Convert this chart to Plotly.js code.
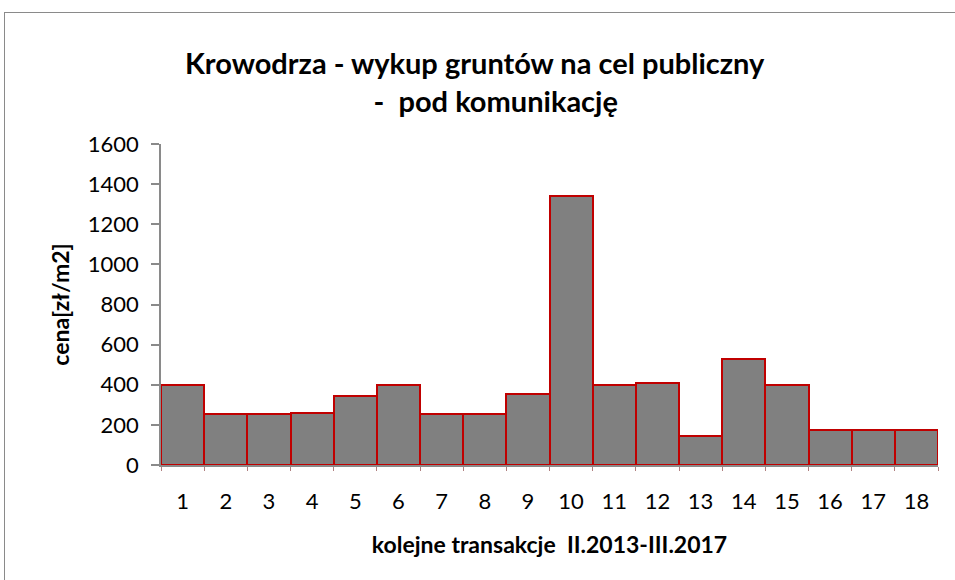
<!DOCTYPE html>
<html>
<head>
<meta charset="utf-8">
<script src="https://cdn.plot.ly/plotly-3.0.1.min.js"></script>
<style>
  body { margin: 0; background: #fff; }
  #frame { position: absolute; left: 4px; top: 12px; width: 1000px; height: 620px; border: 1.5px solid #8a8a8a; }
  #chart { position: absolute; left: 0; top: 0; width: 955px; height: 580px; }
</style>
</head>
<body>
<div id="frame"></div>
<div id="chart"></div>
<script>
// kolejne transakcje 1..18
var transakcje = ['1', '2', '3', '4', '5', '6', '7', '8', '9', '10', '11', '12', '13', '14', '15', '16', '17', '18'];
// cena [zł/m2]
var ceny = [400, 254, 254, 259, 342, 400, 253, 253, 355, 1341, 400, 409, 146, 528, 400, 176, 172, 172];
var yTicks = [0, 200, 400, 600, 800, 1000, 1200, 1400, 1600];

var fontFam = 'Lato, "Open Sans", sans-serif';

var data = [{
  type: 'bar',
  x: transakcje,
  y: ceny,
  marker: { color: '#808080', line: { color: '#c00000', width: 2 } },
  hoverinfo: 'x+y'
}];

var layout = {
  width: 955,
  height: 580,
  margin: { l: 161, r: 17, t: 144, b: 115 },
  paper_bgcolor: 'rgba(0,0,0,0)',
  plot_bgcolor: 'rgba(0,0,0,0)',
  showlegend: false,
  bargap: 0,
  font: { family: fontFam, color: '#000' },
  title: {
    text: '<b>Krowodrza - wykup gruntów na cel publiczny<br>      -  pod komunikację</b>',
    font: { family: fontFam, size: 29, color: '#000' },
    x: 0.497, xanchor: 'center',
    y: 0.872, yanchor: 'middle'
  },
  xaxis: {
    type: 'category',
    showline: true, linecolor: '#8a8a8a', linewidth: 1.5,
    ticks: 'outside', tickson: 'boundaries', ticklen: 4, tickcolor: '#b08080',
    tickfont: { size: 22, family: fontFam },
    ticklabelstandoff: 16,
    showgrid: false, zeroline: false,
    title: { text: '<b>kolejne transakcje  II.2013-III.2017</b>', font: { size: 23, family: fontFam }, standoff: 24 }
  },
  yaxis: {
    range: [0, 1600],
    tickvals: yTicks,
    showline: true, linecolor: '#8a8a8a', linewidth: 1.5,
    ticks: 'outside', ticklen: 8, tickcolor: '#8a8a8a', tickwidth: 1.5,
    tickfont: { size: 22, family: fontFam },
    ticklabelstandoff: 8,
    showgrid: false, zeroline: false,
    title: { text: '<b>cena[zł/m2]</b>', font: { size: 23, family: fontFam }, standoff: 12 }
  }
};

Plotly.newPlot('chart', data, layout, { displayModeBar: false });
</script>
</body>
</html>
